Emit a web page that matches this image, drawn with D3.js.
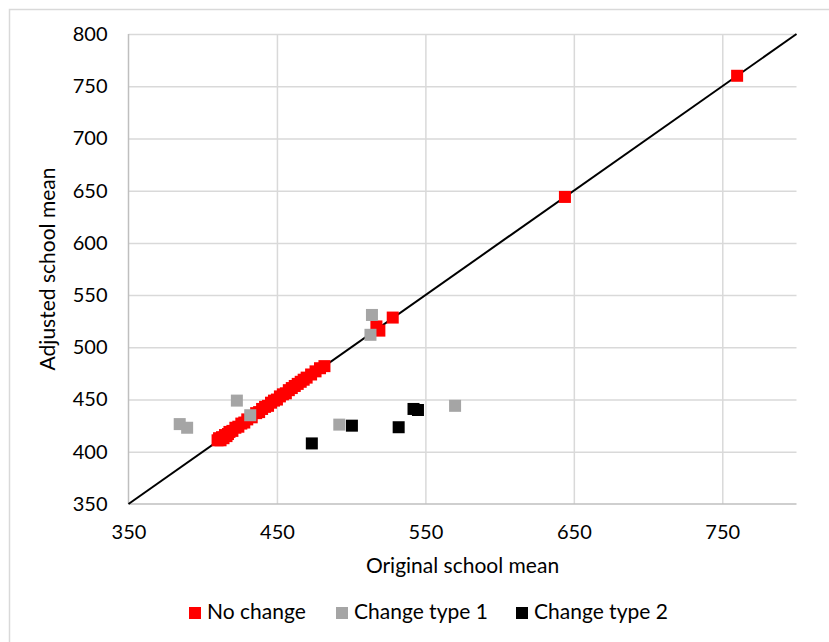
<!DOCTYPE html>
<html><head><meta charset="utf-8">
<script src="https://cdn.jsdelivr.net/npm/d3@7/dist/d3.min.js"></script>
<style>
body{margin:0;background:#fff}
svg{display:block}
text{font-family:Lato,"Open Sans",sans-serif;fill:#000}
</style>
</head><body>
<svg id="chart" width="829" height="642"></svg>
<script>
// ---- data ----
const seriesNames = ["No change", "Change type 1", "Change type 2"];
const seriesColors = ["#FF0000", "#A5A5A5", "#000000"];

const noChangeOriginal = [410,411,412,413,414,415,416,417,418,420,422,424,426,428,430,433,436,438,440,442,444,446,448,450,452,454,456,458,460,462,464,466,468,470,473,476,479,482,517,519,528,644,760];
const noChangeAdjusted = [411,413,411,414,413,416,415,417,419,420,423,424,427,428,431,433,437,438,441,443,444,447,449,450,453,455,456,459,461,463,465,467,469,471,474,477,480,482,520,516,528.5,644,760];

const type1Original = [514,513,423,432,384.5,389.5,492,570];
const type1Adjusted = [531,512,449,435,426.5,423,426,444];

const type2Original = [473.5,500.5,532,542,545];
const type2Adjusted = [408,425,423.5,441,440];

const xTicks = [350,450,550,650,750];
const yTicks = [350,400,450,500,550,600,650,700,750,800];
const xDomain = [350,800];
const yDomain = [350,800];
const xTitle = "Original school mean";
const yTitle = "Adjusted school mean";

// ---- layout ----
const svg = d3.select("#chart");
const L = 128.5, R = 796.5, T = 34, B = 504;
const x = d3.scaleLinear().domain(xDomain).range([L, R]);
const y = d3.scaleLinear().domain(yDomain).range([B, T]);

// outer chart border
svg.append("rect").attr("x",9.5).attr("y",9.5).attr("width",900).attr("height",900)
  .attr("fill","none").attr("stroke","#d9d9d9").attr("stroke-width",1.5);

// gridlines + tick labels
const gx = svg.append("g").attr("transform",`translate(0,${B})`)
  .call(d3.axisBottom(x).tickValues(xTicks).tickSize(-(B-T)).tickPadding(21).tickFormat(d3.format("d")));
gx.select(".domain").remove();
gx.selectAll("line").attr("stroke","#d9d9d9").attr("stroke-width",1.5)
  .filter(d => d === xDomain[0]).remove();
gx.selectAll("text").attr("font-size",20).attr("font-family","Lato").attr("fill","#000");

const gy = svg.append("g").attr("transform",`translate(${L},0)`)
  .call(d3.axisLeft(y).tickValues(yTicks).tickSize(-(R-L)).tickPadding(21).tickFormat(d3.format("d")));
gy.select(".domain").remove();
gy.selectAll("line").attr("stroke","#d9d9d9").attr("stroke-width",1.5)
  .filter(d => d === yDomain[0]).remove();
gy.selectAll("text").attr("font-size",20).attr("font-family","Lato").attr("fill","#000");

// axis lines
svg.append("line").attr("x1",L).attr("x2",L).attr("y1",T).attr("y2",B)
  .attr("stroke","#bfbfbf").attr("stroke-width",1.5);
svg.append("line").attr("x1",L).attr("x2",R).attr("y1",B).attr("y2",B)
  .attr("stroke","#bfbfbf").attr("stroke-width",1.5);

// diagonal y = x
svg.append("line")
  .attr("x1",x(xDomain[0])).attr("y1",y(yDomain[0]))
  .attr("x2",x(xDomain[1])).attr("y2",y(yDomain[1]))
  .attr("stroke","#000").attr("stroke-width",2);

// markers
const ms = 12;
const series = [
  {xs:noChangeOriginal, ys:noChangeAdjusted},
  {xs:type1Original, ys:type1Adjusted},
  {xs:type2Original, ys:type2Adjusted}
];
series.forEach((s,i) => {
  const pts = s.xs.map((v,k) => [v, s.ys[k]]);
  svg.append("g").selectAll("rect").data(pts).join("rect")
    .attr("x", d => x(d[0]) - ms/2).attr("y", d => y(d[1]) - ms/2)
    .attr("width", ms).attr("height", ms)
    .attr("fill", seriesColors[i]);
});

// axis titles
svg.append("text").attr("x",(L+R)/2).attr("y",573).attr("text-anchor","middle")
  .attr("font-size",21).text(xTitle);
svg.append("text").attr("transform",`translate(55,${(T+B)/2}) rotate(-90)`)
  .attr("text-anchor","middle").attr("font-size",21).text(yTitle);

// legend
const legendX = [189, 336, 516];
const lg = svg.append("g");
seriesNames.forEach((n,i) => {
  lg.append("rect").attr("x",legendX[i]).attr("y",607).attr("width",12).attr("height",12)
    .attr("fill",seriesColors[i]);
  lg.append("text").attr("x",legendX[i]+18).attr("y",619).attr("font-size",21).text(n);
});
</script>
</body></html>
